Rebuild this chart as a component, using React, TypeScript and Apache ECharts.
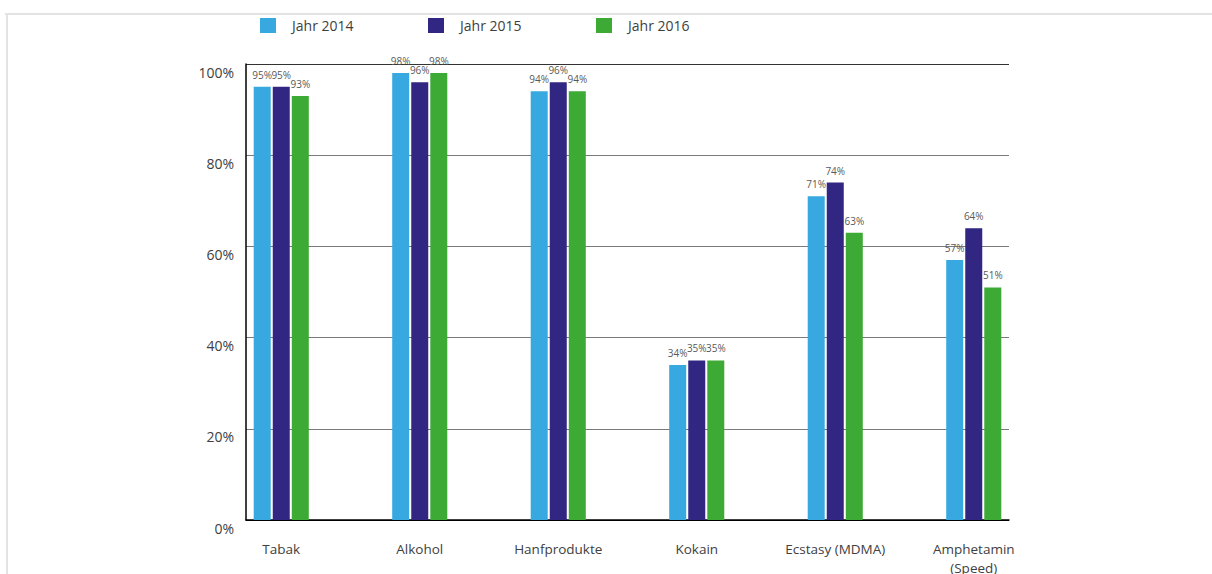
import React, { useEffect, useRef } from "react";
import * as echarts from "echarts";

const categories = ["Tabak", "Alkohol", "Hanfprodukte", "Kokain", "Ecstasy (MDMA)", "Amphetamin\n(Speed)"];
const seriesNames = ["Jahr 2014", "Jahr 2015", "Jahr 2016"];
const values2014 = [95, 98, 94, 34, 71, 57];
const values2015 = [95, 96, 96, 35, 74, 64];
const values2016 = [93, 98, 94, 35, 63, 51];
const colors = ["#37a8e0", "#312682", "#3caa35"];
const yTicks = [0, 20, 40, 60, 80, 100];

const FONT = "'Open Sans', 'Noto Sans', sans-serif";

export default function App() {
  const ref = useRef<HTMLDivElement>(null);
  useEffect(() => {
    if (!ref.current) return;
    const chart = echarts.init(ref.current, undefined, { renderer: "svg" });
    const allValues = [values2014, values2015, values2016];
    const legendLefts = [260, 428, 596];
    chart.setOption({
      animation: false,
      backgroundColor: "#ffffff",
      textStyle: { fontFamily: FONT },
      graphic: [
        { type: "line", shape: { x1: 5, y1: 14, x2: 1212, y2: 14 }, style: { stroke: "#e3e3e3", lineWidth: 2 } },
        { type: "line", shape: { x1: 7, y1: 14, x2: 7, y2: 574 }, style: { stroke: "#e3e3e3", lineWidth: 2 } },
      ],
      legend: seriesNames.map((n, i) => ({
        data: [n],
        left: legendLefts[i],
        top: 18,
        padding: 0,
        itemWidth: 16,
        itemHeight: 15,
        icon: "rect",
        textStyle: { fontSize: 14, color: "#404040", fontFamily: FONT, padding: [0, 0, 0, 11] },
      })),
      grid: [
        { left: 246, width: 763, top: 64, height: 456, containLabel: false, outerBoundsMode: "none" },
        { left: 212, width: 831, top: 64, height: 456, containLabel: false, outerBoundsMode: "none" },
      ],
      xAxis: [
        {
          gridIndex: 0,
          type: "category",
          data: [""],
          axisLine: { show: true, onZero: false, lineStyle: { color: "#000000", width: 1.5 } },
          axisTick: { show: false },
          axisLabel: { show: false },
          splitLine: { show: false },
        },
        {
          gridIndex: 1,
          type: "category",
          data: categories,
          axisLine: { show: false },
          axisTick: { show: false },
          axisLabel: {
            color: "#404040",
            fontSize: 13.5,
            fontFamily: FONT,
            margin: 19,
            lineHeight: 19,
            interval: 0,
          },
        },
      ],
      yAxis: [
        {
          gridIndex: 0,
          type: "value",
          min: 0,
          max: 100,
          interval: 20,
          axisLine: { show: true, lineStyle: { color: "#000000", width: 1.5 } },
          axisTick: { show: false },
          axisLabel: {
            formatter: (v: number) => (yTicks.includes(v) ? v + "%" : ""),
            color: "#404040",
            fontSize: 14,
            fontFamily: FONT,
            margin: 12,
            verticalAlign: "top",
            padding: [1, 0, 0, 0],
          },
          splitLine: {
            show: true,
            lineStyle: { color: ["#000000", "#7a7a7a", "#7a7a7a", "#7a7a7a", "#7a7a7a", "#333333"], width: 1.2 },
          },
        },
        {
          gridIndex: 1,
          type: "value",
          min: 0,
          max: 100,
          show: false,
          splitLine: { show: false },
        },
      ],
      series: seriesNames.map((n, i) => ({
        name: n,
        type: "bar",
        xAxisIndex: 1,
        yAxisIndex: 1,
        data: allValues[i],
        barWidth: 17,
        barGap: "12%",
        z: 3,
        itemStyle: { color: colors[i], borderWidth: 0 },
        label: {
          show: true,
          position: "top",
          distance: 7,
          formatter: "{c}%",
          color: "#595959",
          fontSize: 10,
          fontFamily: FONT,
        },
      })),
    });
    return () => chart.dispose();
  }, []);
  return <div ref={ref} style={{ position: "absolute", left: 0, top: 0, width: 1212, height: 574 }} />;
}
